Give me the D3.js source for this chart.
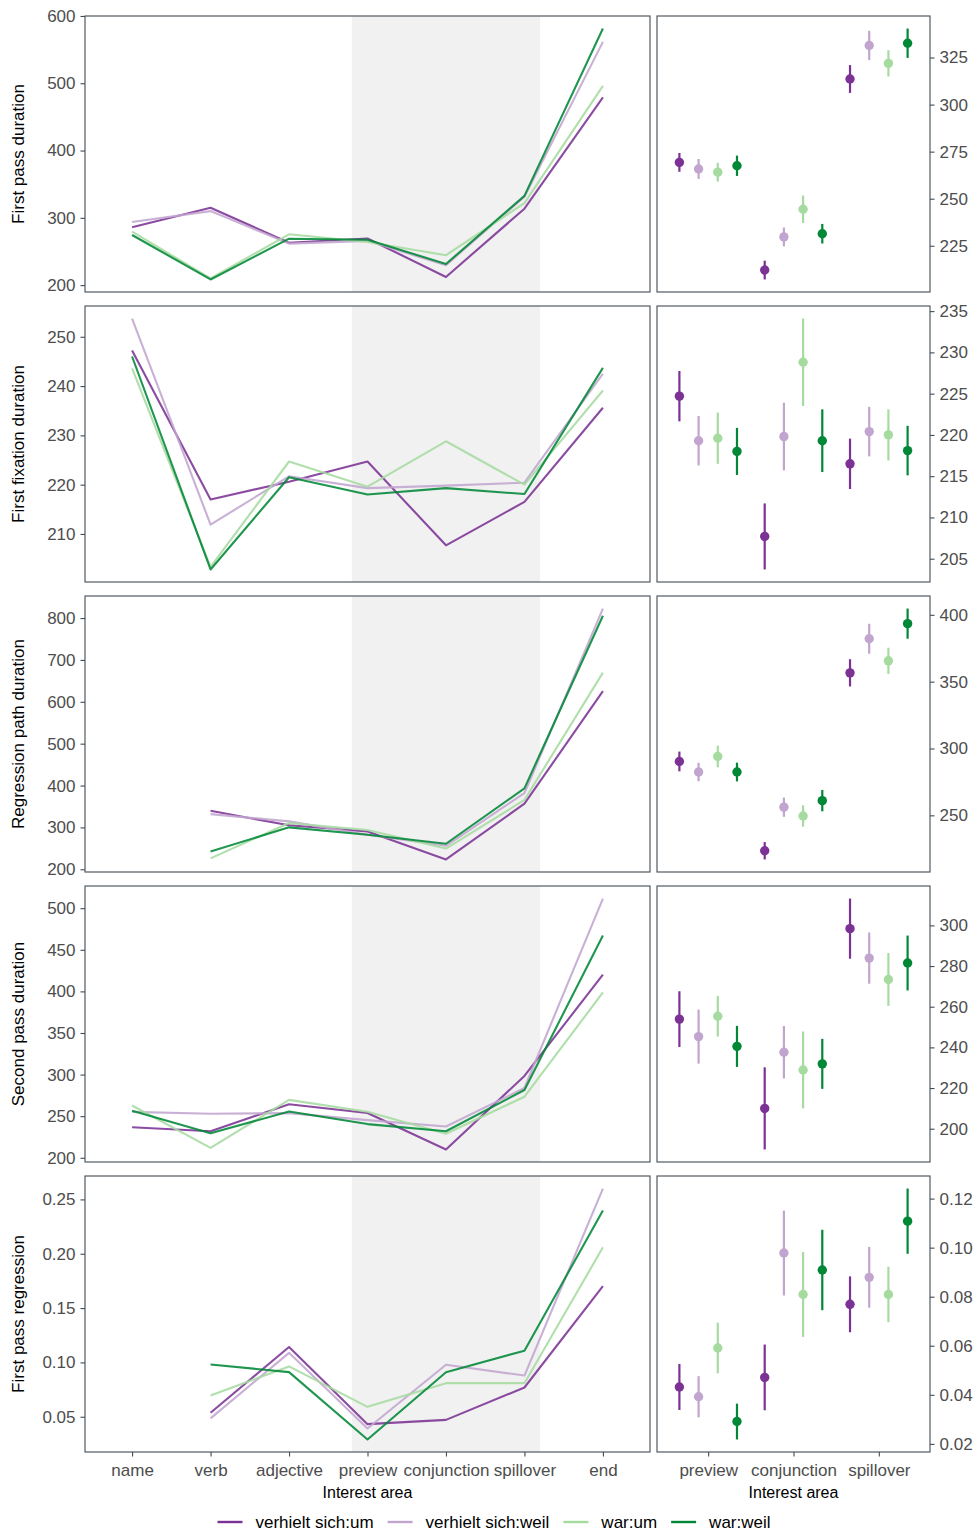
<!DOCTYPE html>
<head>
  <meta charset="utf-8">
  <script src="https://d3js.org/d3.v7.min.js"></script>
  <style>
    body { margin: 0; background: #fff; }
    svg { font-family: "Liberation Sans", Arial, sans-serif; }
    .tick-label { fill: #4d4d4d; font-size: 17px; }
    .axis-title { fill: #000; font-size: 17px; }
    .x-title { fill: #000; font-size: 16px; }
    .legend-text { fill: #000; font-size: 17px; }
  </style>
</head>
<body>
<script>
// ---- data ----
var areas = ["name", "verb", "adjective", "preview", "conjunction", "spillover", "end"];
var regions = ["preview", "conjunction", "spillover"];
var conditions = ["verhielt sich:um", "verhielt sich:weil", "war:um", "war:weil"];
var colors = ["#7b3294", "#c2a5cf", "#a6dba0", "#008837"];
var measures = ["First pass duration", "First fixation duration", "Regression path duration",
                "Second pass duration", "First pass regression"];

// means per condition, one value per interest area (null = not measured)
var firstPass = [
  [286, 315, 263, 269.3, 212.1, 313.6, 479],
  [293.7, 310, 261.7, 265.8, 229.7, 331.4, 561.5],
  [279.4, 209.9, 275.5, 264.1, 244.4, 321.9, 496],
  [274.5, 208.4, 269, 267.5, 231.4, 332.6, 581.3]
];
var firstFix = [
  [247.2, 217.0, 220.6, 224.7, 207.7, 216.5, 235.6],
  [253.7, 211.9, 221.7, 219.3, 219.8, 220.4, 242.5],
  [243.6, 203.3, 224.7, 219.6, 228.8, 220.0, 239.1],
  [246.0, 202.8, 221.5, 218.0, 219.3, 218.1, 243.7]
];
var regPath = [
  [null, 339.7, 305, 290.3, 223.5, 356.6, 625.4],
  [null, 331.8, 314.4, 282.4, 256.1, 382.1, 822.7],
  [null, 226, 310.5, 294, 249.5, 365.6, 669.6],
  [null, 242.6, 300.2, 282.4, 261, 393.4, 805.4]
];
var secondPass = [
  [236.6, 231.8, 264.4, 253.9, 210, 298.4, 420.2],
  [255.2, 252.9, 253.7, 245.3, 237.6, 283.9, 511.6],
  [262.8, 211.9, 269.6, 255.3, 228.9, 273.4, 398.7],
  [256.4, 229.4, 255.6, 240.5, 231.9, 281.5, 467.1]
];
var firstReg = [
  [null, 0.0537, 0.1142, 0.0432, 0.0471, 0.0769, 0.1702],
  [null, 0.0485, 0.1088, 0.0392, 0.0978, 0.0879, 0.26],
  [null, 0.0695, 0.0963, 0.0591, 0.0809, 0.0809, 0.2059],
  [null, 0.0981, 0.0911, 0.0291, 0.0909, 0.1108, 0.2397]
];

// half-widths of the error bars for preview / conjunction / spillover
var firstPassCI  = [[5, 5, 7.4], [5.3, 5, 7.8], [5, 7.3, 7], [5.4, 5.2, 7.8]];
var firstFixCI   = [[3.05, 4.0, 3.05], [3.0, 4.1, 3.0], [3.1, 5.3, 3.1], [2.85, 3.8, 3.0]];
var regPathCI    = [[7.4, 6.5, 10.2], [6.9, 7.2, 11.2], [8.1, 8, 9.8], [7, 8, 11.3]];
var secondPassCI = [[13.7, 20.2, 14.8], [13.3, 12.9, 12.6], [10, 18.9, 13], [10.1, 12.3, 13.5]];
var firstRegCI   = [[0.0094, 0.0134, 0.0114], [0.0084, 0.0173, 0.0124], [0.0103, 0.0173, 0.0113], [0.0073, 0.0164, 0.0133]];

// tick values
var leftTicks = [
  [200, 300, 400, 500, 600],
  [210, 220, 230, 240, 250],
  [200, 300, 400, 500, 600, 700, 800],
  [200, 250, 300, 350, 400, 450, 500],
  [0.05, 0.10, 0.15, 0.20, 0.25]
];
var rightTicks = [
  [225, 250, 275, 300, 325],
  [205, 210, 215, 220, 225, 230, 235],
  [250, 300, 350, 400],
  [200, 220, 240, 260, 280, 300],
  [0.02, 0.04, 0.06, 0.08, 0.10, 0.12]
];
var tickFormats = ["d", "d", "d", "d", ".2f"];

var means = [firstPass, firstFix, regPath, secondPass, firstReg];
var cis = [firstPassCI, firstFixCI, regPathCI, secondPassCI, firstRegCI];

// ---- layout ----
var width = 980, height = 1533;
var rowTop = [16, 306, 596, 886, 1176], rowH = 276;
var L = {x0: 85, x1: 650}, R = {x0: 657, x1: 930};
var border = "#434b53";

var svg = d3.select("body").append("svg")
  .attr("width", width)
  .attr("height", height);

var xL = d3.scalePoint().domain(areas).range([L.x0, L.x1]).padding(0.6);
var xR = d3.scalePoint().domain(regions).range([R.x0, R.x1]).padding(0.6);
var dodge = xR.step() * 0.9 / conditions.length;

function padded(ext) {
  var d = (ext[1] - ext[0]) * 0.05;
  return [ext[0] - d, ext[1] + d];
}

function styleAxis(ax) {
  ax.select(".domain").remove();
  ax.selectAll(".tick line").attr("stroke", border).attr("stroke-width", 1.1);
  ax.selectAll(".tick text").attr("class", "tick-label").attr("fill", null);
  ax.attr("font-size", null).attr("font-family", null);
}

measures.forEach(function(title, m) {
  var top = rowTop[m], bottom = top + rowH;
  var data = means[m], ci = cis[m];

  // ---- left panel: lines over all interest areas ----
  var allVals = d3.merge(data).filter(function(v) { return v != null; });
  var yL = d3.scaleLinear().domain(padded(d3.extent(allVals))).range([bottom, top]);

  var gL = svg.append("g");
  gL.append("rect")
    .attr("x", xL("preview") - 0.2 * xL.step())
    .attr("width", xL("spillover") - xL("preview") + 0.4 * xL.step())
    .attr("y", top).attr("height", rowH)
    .attr("fill", "#f1f1f1");

  var line = d3.line()
    .defined(function(d) { return d != null; })
    .x(function(d, i) { return xL(areas[i]); })
    .y(function(d) { return yL(d); });

  data.forEach(function(series, c) {
    gL.append("path")
      .attr("d", line(series))
      .attr("fill", "none")
      .attr("stroke", colors[c])
      .attr("stroke-opacity", 0.88)
      .attr("stroke-width", 2.1)
      .attr("stroke-linejoin", "round");
  });

  gL.append("rect")
    .attr("x", L.x0).attr("y", top)
    .attr("width", L.x1 - L.x0).attr("height", rowH)
    .attr("fill", "none").attr("stroke", border).attr("stroke-width", 1.1);

  var axL = gL.append("g")
    .attr("transform", "translate(" + L.x0 + ",0)")
    .call(d3.axisLeft(yL).tickValues(leftTicks[m]).tickFormat(d3.format(tickFormats[m])).tickSize(4.5).tickPadding(5));
  styleAxis(axL);

  svg.append("text")
    .attr("class", "axis-title")
    .attr("transform", "translate(24," + (top + rowH / 2) + ") rotate(-90)")
    .attr("text-anchor", "middle")
    .text(title);

  // ---- right panel: means with error bars for the critical regions ----
  var lows = [], highs = [];
  data.forEach(function(series, c) {
    regions.forEach(function(r, k) {
      var v = series[areas.indexOf(r)];
      lows.push(v - ci[c][k]);
      highs.push(v + ci[c][k]);
    });
  });
  var yR = d3.scaleLinear().domain(padded([d3.min(lows), d3.max(highs)])).range([bottom, top]);

  var gR = svg.append("g");
  data.forEach(function(series, c) {
    regions.forEach(function(r, k) {
      var v = series[areas.indexOf(r)];
      var cx = xR(r) + (c - 1.5) * dodge;
      gR.append("line")
        .attr("x1", cx).attr("x2", cx)
        .attr("y1", yR(v - ci[c][k])).attr("y2", yR(v + ci[c][k]))
        .attr("stroke", colors[c]).attr("stroke-width", 2.2);
      gR.append("circle")
        .attr("cx", cx).attr("cy", yR(v)).attr("r", 4.7)
        .attr("fill", colors[c]);
    });
  });

  gR.append("rect")
    .attr("x", R.x0).attr("y", top)
    .attr("width", R.x1 - R.x0).attr("height", rowH)
    .attr("fill", "none").attr("stroke", border).attr("stroke-width", 1.1);

  var axR = gR.append("g")
    .attr("transform", "translate(" + R.x1 + ",0)")
    .call(d3.axisRight(yR).tickValues(rightTicks[m]).tickFormat(d3.format(tickFormats[m])).tickSize(4.5).tickPadding(5));
  styleAxis(axR);

  // x axes only under the last row
  if (m === measures.length - 1) {
    [[xL, L], [xR, R]].forEach(function(p) {
      var ax = svg.append("g")
        .attr("transform", "translate(0," + bottom + ")")
        .call(d3.axisBottom(p[0]).tickSize(4.5).tickPadding(7));
      styleAxis(ax);
      svg.append("text")
        .attr("class", "x-title")
        .attr("x", (p[1].x0 + p[1].x1) / 2)
        .attr("y", bottom + 46)
        .attr("text-anchor", "middle")
        .text("Interest area");
    });
  }
});

// ---- legend ----
var legend = svg.append("g");
var lx = 0;
conditions.forEach(function(name, c) {
  var g = legend.append("g");
  g.append("line")
    .attr("x1", 0).attr("x2", 25).attr("y1", 0).attr("y2", 0)
    .attr("stroke", colors[c]).attr("stroke-width", 2.4);
  var t = g.append("text")
    .attr("class", "legend-text")
    .attr("x", 38).attr("dy", "0.35em")
    .text(name);
  var w = 38 + t.node().getComputedTextLength();
  g.attr("transform", "translate(" + lx + ",0)");
  lx += w + 14;
});
var totalW = lx - 14;
legend.attr("transform", "translate(" + (494 - totalW / 2) + ",1522)");
</script>
</body>
